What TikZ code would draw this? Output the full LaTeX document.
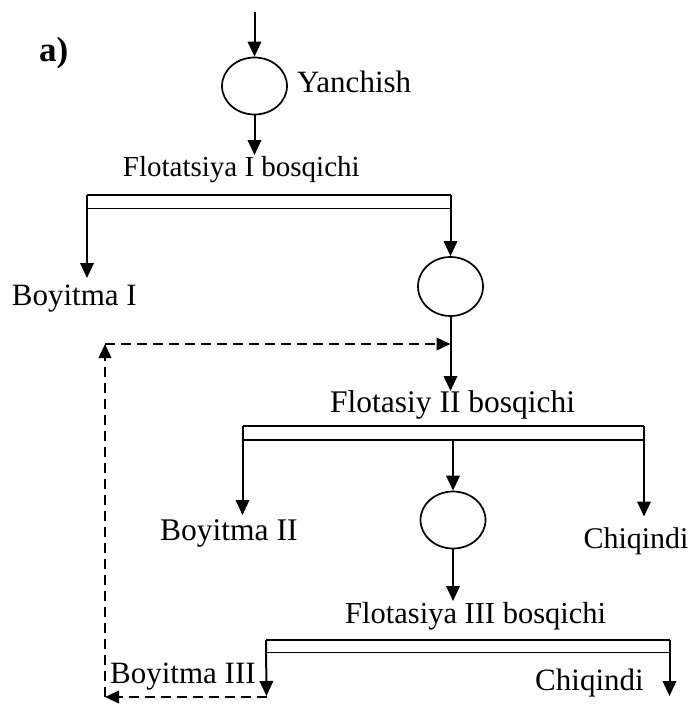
\documentclass[tikz,border=0pt]{standalone}
\usepackage{fontspec}
\setmainfont{Liberation Serif}
\usetikzlibrary{arrows.meta,shapes.geometric}
\newcommand\fs[1]{\fontsize{#1}{#1}\selectfont}
\begin{document}
\begin{tikzpicture}[x=1pt,y=-1pt,
  flow/.style={line width=2pt,-{Triangle[length=15pt,width=13.5pt]}},
  recycle/.style={line width=2.2pt,dash pattern=on 10pt off 6pt,-{Triangle[length=14pt,width=12.5pt]}},
  bar/.style={line width=1.7pt},
  unit/.style={draw,ellipse,line width=1.7pt,inner sep=0pt,minimum width=65pt,minimum height=57pt},
  lbl/.style={inner sep=0pt,anchor=base west,font=\fs{31}},
]
\useasboundingbox (0,0) rectangle (695,704);

% labels
\node[lbl,font=\bfseries\fs{35}] (tag) at (39,61.7) {a)};
\node[lbl] (yan) at (297,92) {Yanchish};
\node[lbl,font=\fs{29}] (st1) at (122.7,176.7) {Flotatsiya I bosqichi};
\node[lbl] (boy1) at (11.7,305) {Boyitma I};
\node[lbl,font=\fs{31.5}] (st2) at (330,412.3) {Flotasiy II bosqichi};
\node[lbl,font=\fs{31.5}] (boy2) at (160,540) {Boyitma II};
\node[lbl,font=\fs{30}] (chq1) at (583.3,548) {Chiqindi};
\node[lbl,font=\fs{30.5}] (st3) at (345,623.3) {Flotasiya III bosqichi};
\node[lbl] (boy3) at (110,683.3) {Boyitma III};
\node[lbl] (chq2) at (535,690.5) {Chiqindi};

% grinding / flotation units
\node[unit] (c1) at (254.5,86) {};
\node[unit,minimum height=59pt] (c2) at (450.5,286.5) {};
\node[unit] (c3) at (453,520) {};

% feed and grinding
\coordinate (feed) at (254.5,12);
\coordinate (f1) at (254.5,155);
\draw[flow] (feed) -- (c1.north);
\draw[flow] (c1.south) -- (f1);

% stage I splitter
\coordinate (b1L) at (87,195);
\coordinate (b1R) at (450.5,195);
\coordinate (b1Lb) at (87,208.5);
\coordinate (b1Rb) at (451,208.5);
\coordinate (o1) at (87,278);
\draw[bar] (b1L) -- (b1R);
\draw[bar] (b1Lb) -- (b1Rb);
\draw[flow] (b1L) -- (o1);
\draw[flow] (b1R) -- (c2.north);

% to stage II
\coordinate (j) at (450.5,344);
\coordinate (f2) at (450.5,391);
\draw[flow] (c2.south) -- (f2);

% stage II splitter
\coordinate (b2L) at (242.5,426);
\coordinate (b2R) at (644,426);
\coordinate (b2Lb) at (242.5,440);
\coordinate (b2Rb) at (644,440);
\coordinate (b2M) at (453,440);
\coordinate (o2) at (242.5,515);
\coordinate (o3) at (644,516.5);
\draw[bar] (b2L) -- (b2R);
\draw[bar] (b2Lb) -- (b2Rb);
\draw[flow] (b2L) -- (o2);
\draw[flow] (b2R) -- (o3);
\draw[flow] (b2M) -- (c3.north);

% to stage III
\coordinate (f3) at (453,601);
\draw[flow] (c3.south) -- (f3);

% stage III splitter
\coordinate (b3L) at (266,640);
\coordinate (b3R) at (669.5,640);
\coordinate (b3Lb) at (266,652.5);
\coordinate (b3Rb) at (669.5,652.5);
\coordinate (o4) at (266.5,696);
\coordinate (o5) at (669.5,696);
\draw[bar] (b3L) -- (b3R);
\draw[bar] (b3Lb) -- (b3Rb);
\draw[flow] (b3L) -- (o4);
\draw[flow] (b3R) -- (o5);

% recycle of concentrate III back to stage II
\coordinate (d2) at (105,697);
\coordinate (d1) at (105,344);
\coordinate (d3) at (266.5,697);
\draw[recycle] (d3) -- (d2);
\draw[recycle] (d2) -- (d1);
\draw[recycle] (d1) -- (j);
\end{tikzpicture}
\end{document}
